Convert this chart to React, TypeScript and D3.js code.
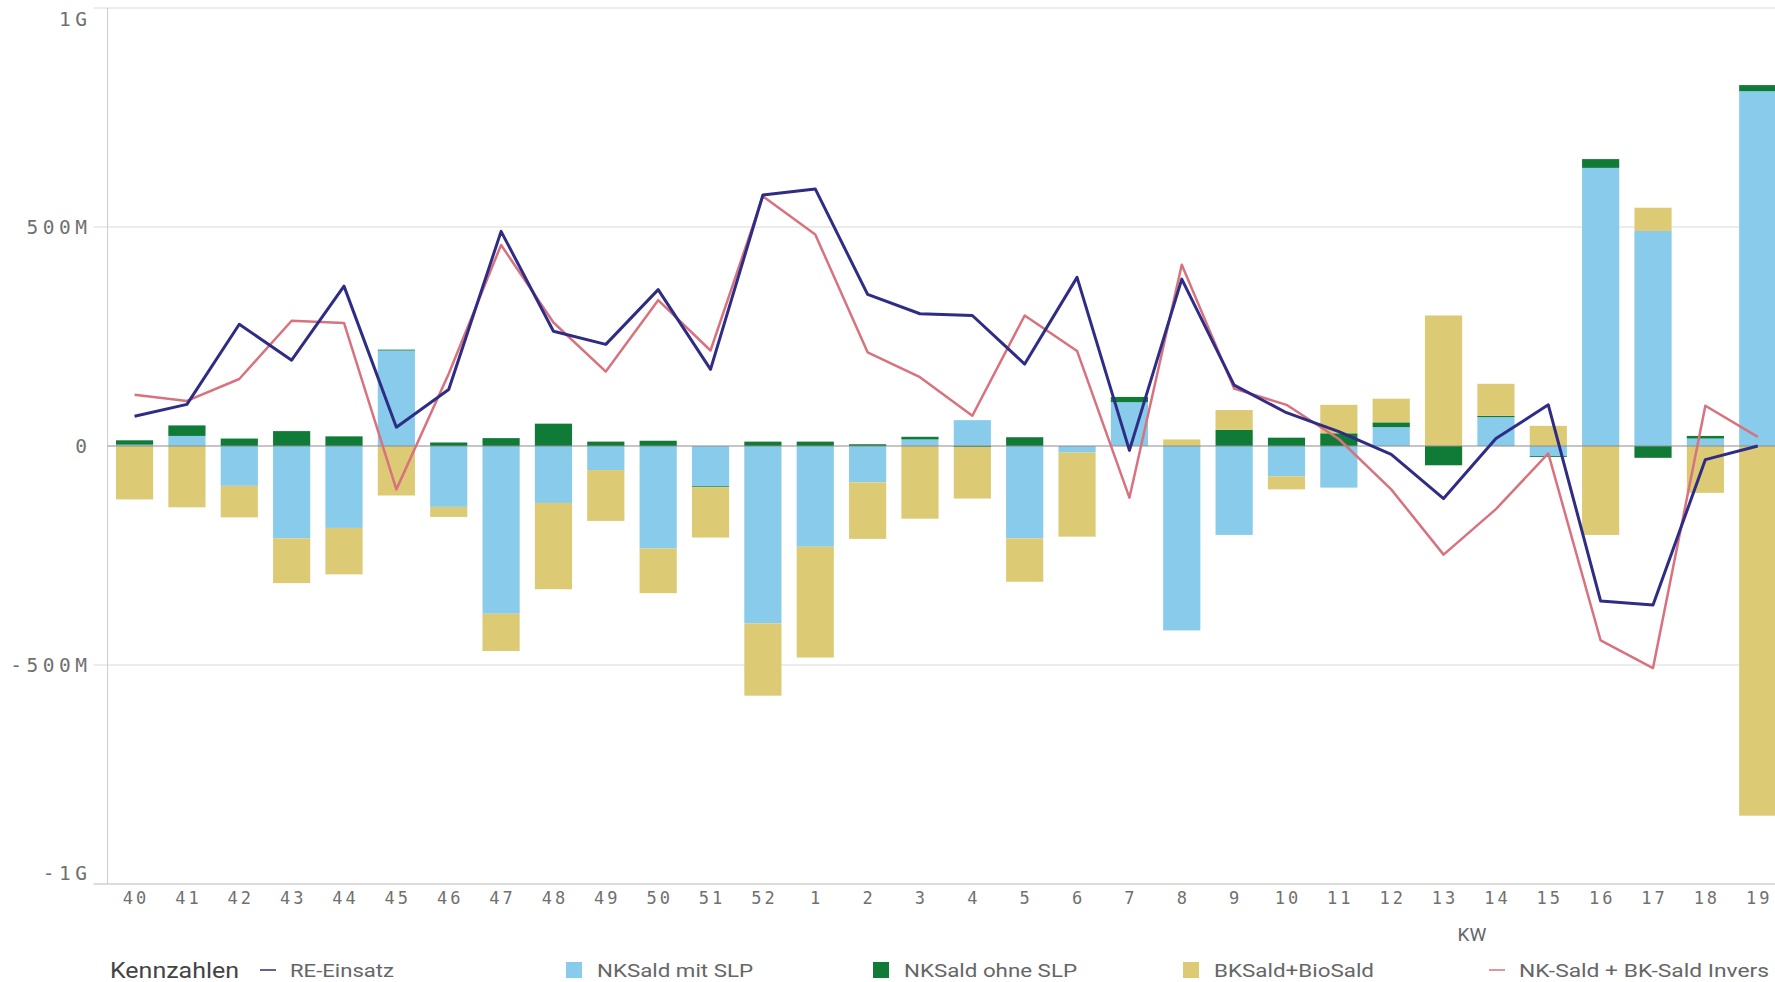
import React, { useEffect, useRef } from 'react';
import * as d3 from 'd3';

const width = 1775;
const height = 982;
const plot = { left: 107.6, right: 1784.7, top: 8, bottom: 884 };

const weeks = ['40', '41', '42', '43', '44', '45', '46', '47', '48', '49', '50', '51', '52',
  '1', '2', '3', '4', '5', '6', '7', '8', '9', '10', '11', '12', '13', '14', '15', '16', '17', '18', '19'];

// values in millions
const nkMitSlp = [3, 23, -91, -211, -187, 218, -139, -383, -130, -55, -234, -92, -405,
  -230, -83, 15, 59, -211, -15, 100, -421, -203, -69, -95, 43, 0, 66, -23, 635, 491, 17, 810];
const nkOhneSlp = [10, 24, 17, 34, 22, 2, 8, 18, 51, 10, 12, -2, 10,
  10, 4, 6, -2, 20, 0, 12, 0, 37, 19, 29, 11, -44, 3, -2, 20, -27, 6, 14];
const bkBio = [-122, -140, -72, -102, -106, -113, -23, -85, -197, -116, -102, -115, -165,
  -253, -129, -166, -118, -99, -192, 0, 15, 45, -30, 65, 54, 298, 73, 46, -203, 53, -107, -844];
const reEinsatz = [68, 95, 278, 196, 365, 43, 129, 490, 262, 232, 357, 175, 573,
  587, 346, 302, 298, 187, 385, -10, 381, 139, 76, 33, -19, -120, 17, 94, -354, -363, -31, 0];
const nkBkInvers = [117, 103, 153, 286, 281, -99, 165, 459, 282, 170, 333, 218, 570,
  483, 214, 157, 69, 298, 217, -118, 414, 131, 94, 16, -99, -248, -144, -17, -444, -507, 92, 21];
const yTicks = [-1000, -500, 0, 500, 1000];

const colors = {
  blue: '#88cbea',
  green: '#107a37',
  yellow: '#dccb74',
  navy: '#2f2c86',
  pink: '#d8727f',
};

const x = d3.scaleBand<string>()
  .domain(weeks)
  .range([plot.left, plot.right])
  .paddingInner(0.29)
  .paddingOuter(0.16);

const y = d3.scaleLinear()
  .domain([-1000, 1000])
  .range([plot.bottom, plot.top]);

const fmt = (d: number) => d === 0 ? '0' : Math.abs(d) >= 1000 ? `${d / 1000}G` : `${d}M`;

export default function App() {
  const ref = useRef<SVGSVGElement>(null);

  useEffect(() => {
    const svg = d3.select(ref.current);
    svg.selectAll('*').remove();

    const monoFont = '"DejaVu Sans Mono", monospace';
    const sansFont = 'Roboto, "Noto Sans", sans-serif';

    // gridlines + y labels
    const grid = svg.append('g');
    grid.selectAll('line')
      .data(yTicks.filter(d => d !== 0))
      .enter().append('line')
      .attr('x1', plot.left - 14)
      .attr('x2', width)
      .attr('y1', d => y(d))
      .attr('y2', d => y(d))
      .attr('stroke', '#d9d9d9')
      .attr('stroke-width', 1);

    svg.append('line')
      .attr('x1', plot.left).attr('x2', plot.left)
      .attr('y1', plot.top).attr('y2', plot.bottom)
      .attr('stroke', '#cccccc');

    const ySpacing = 4.5;
    svg.append('g').selectAll('text')
      .data(yTicks)
      .enter().append('text')
      .attr('x', 87 + ySpacing)
      .attr('y', d => d === 1000 ? y(d) + 11 : d === -1000 ? y(d) - 11 : y(d))
      .attr('dy', '0.35em')
      .attr('text-anchor', 'end')
      .attr('font-family', monoFont)
      .attr('font-size', 19.5)
      .attr('letter-spacing', ySpacing)
      .attr('fill', '#707070')
      .text(fmt);

    // stacked bars
    const table = weeks.map((w, i) => ({ week: w, blue: nkMitSlp[i], green: nkOhneSlp[i], yellow: bkBio[i] }));
    const series = d3.stack<any>()
      .keys(['blue', 'green', 'yellow'])
      .offset(d3.stackOffsetDiverging)(table);

    svg.append('g').selectAll('g')
      .data(series)
      .enter().append('g')
      .attr('fill', d => colors[d.key as 'blue'])
      .selectAll('rect')
      .data(d => d)
      .enter().append('rect')
      .attr('x', d => x(d.data.week)!)
      .attr('width', x.bandwidth())
      .attr('y', d => y(Math.max(d[0], d[1])))
      .attr('height', d => Math.abs(y(d[0]) - y(d[1])));

    // zero line
    svg.append('line')
      .attr('x1', plot.left).attr('x2', width)
      .attr('y1', y(0)).attr('y2', y(0))
      .attr('stroke', '#8c8c8c')
      .attr('stroke-width', 1);

    // lines
    const line = d3.line<number>()
      .x((d, i) => x(weeks[i])! + x.bandwidth() / 2)
      .y(d => y(d));

    svg.append('path')
      .attr('d', line(nkBkInvers))
      .attr('fill', 'none')
      .attr('stroke', colors.pink)
      .attr('stroke-width', 2.5)
      .attr('stroke-linejoin', 'round');

    svg.append('path')
      .attr('d', line(reEinsatz))
      .attr('fill', 'none')
      .attr('stroke', colors.navy)
      .attr('stroke-width', 3)
      .attr('stroke-linejoin', 'round');

    // x axis
    svg.append('line')
      .attr('x1', plot.left - 14).attr('x2', width)
      .attr('y1', plot.bottom).attr('y2', plot.bottom)
      .attr('stroke', '#cccccc');

    const xSpacing = 3;
    svg.append('g').selectAll('text')
      .data(weeks)
      .enter().append('text')
      .attr('x', d => x(d)! + x.bandwidth() / 2 + xSpacing / 2)
      .attr('y', 898)
      .attr('dy', '0.35em')
      .attr('text-anchor', 'middle')
      .attr('font-family', monoFont)
      .attr('font-size', 17)
      .attr('letter-spacing', xSpacing)
      .attr('fill', '#707070')
      .text(d => d);

    svg.append('text')
      .attr('x', 1472).attr('y', 934)
      .attr('dy', '0.35em')
      .attr('text-anchor', 'middle')
      .attr('font-family', sansFont)
      .attr('font-size', 19)
      .attr('fill', '#666666')
      .text('KW');

    // legend
    const legend = svg.append('g').attr('font-family', sansFont);
    const ly = 970;
    legend.append('text')
      .attr('x', 110).attr('y', ly).attr('dy', '0.35em')
      .attr('font-size', 22).attr('fill', '#444444')
      .attr('textLength', 129).attr('lengthAdjust', 'spacingAndGlyphs')
      .text('Kennzahlen');

    const items = [
      { label: 'RE-Einsatz', color: colors.navy, type: 'line', x: 260, w: 104 },
      { label: 'NKSald mit SLP', color: colors.blue, type: 'rect', x: 566, w: 156 },
      { label: 'NKSald ohne SLP', color: colors.green, type: 'rect', x: 873, w: 173 },
      { label: 'BKSald+BioSald', color: colors.yellow, type: 'rect', x: 1183, w: 160 },
      { label: 'NK-Sald + BK-Sald Invers', color: colors.pink, type: 'line', x: 1489, w: 250 },
    ];
    const li = legend.selectAll('g.item')
      .data(items)
      .enter().append('g')
      .attr('transform', d => `translate(${d.x}, ${ly})`);
    li.filter(d => d.type === 'rect').append('rect')
      .attr('x', 0).attr('y', -8).attr('width', 16).attr('height', 16)
      .attr('fill', d => d.color);
    li.filter(d => d.type === 'line').append('line')
      .attr('x1', 0).attr('x2', 16).attr('y1', 0).attr('y2', 0)
      .attr('stroke', d => d.color).attr('stroke-width', 1.5);
    li.append('text')
      .attr('x', d => d.type === 'rect' ? 31 : 30)
      .attr('y', 0).attr('dy', '0.35em')
      .attr('font-size', 19)
      .attr('fill', '#666666')
      .attr('textLength', d => d.w)
      .attr('lengthAdjust', 'spacingAndGlyphs')
      .text(d => d.label);
  }, []);

  return (
    <svg
      ref={ref}
      width={width}
      height={height}
      style={{ position: 'absolute', left: 0, top: 0, display: 'block', background: '#ffffff' }}
    />
  );
}
